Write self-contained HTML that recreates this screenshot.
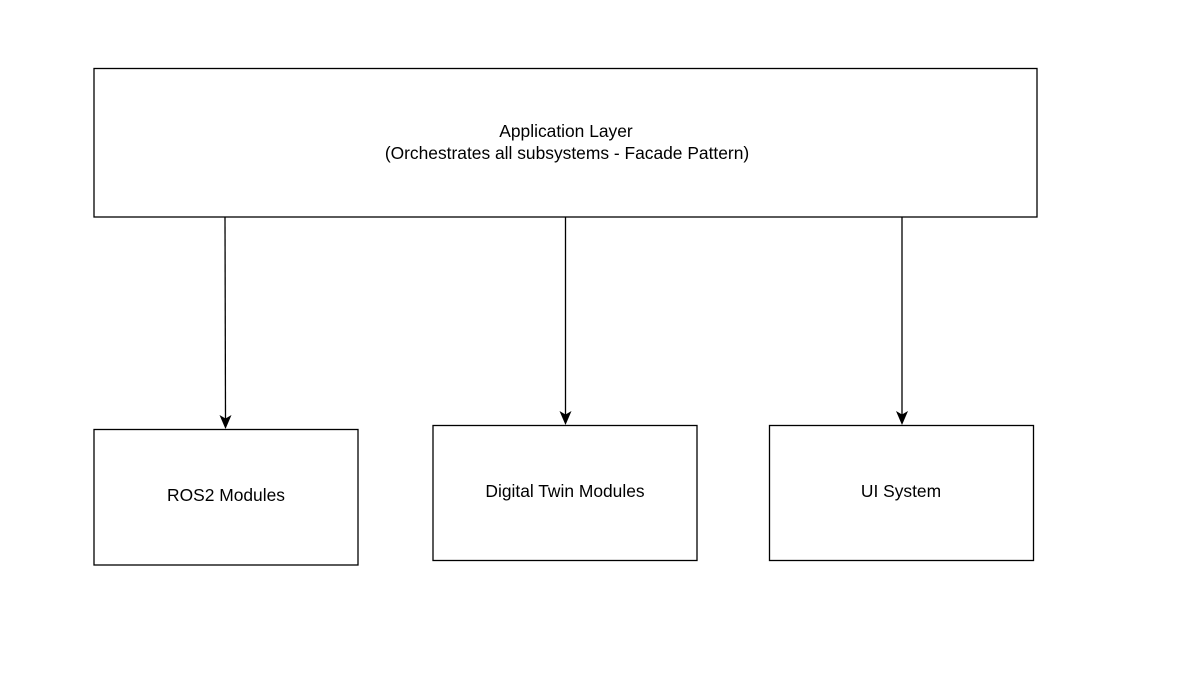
<!DOCTYPE html>
<html><head><meta charset="utf-8"><style>
html,body{margin:0;padding:0;background:#fff;width:1181px;height:685px;overflow:hidden}
svg text{font-family:"Liberation Sans",Arial,sans-serif;font-size:17.4px;fill:#000}
</style></head><body>
<svg width="1181" height="685" viewBox="0 0 1181 685" xmlns="http://www.w3.org/2000/svg">
<g fill="#fff" stroke="#000" stroke-width="1.3">
<rect x="94" y="68.5" width="943" height="148.5"/>
<rect x="94" y="429.5" width="264" height="135.5"/>
<rect x="433" y="425.5" width="264" height="135"/>
<rect x="769.5" y="425.5" width="264" height="135"/>
</g>
<g stroke="#000" stroke-width="1.3" fill="none">
<line x1="225" y1="217" x2="225.5" y2="420"/>
<line x1="565.5" y1="217" x2="565.5" y2="416"/>
<line x1="902" y1="217" x2="902" y2="416"/>
</g>
<g fill="#000">
<path d="M225.5 429 L219.5 415 L225.5 418.5 L231.5 415 Z"/>
<path d="M565.5 425 L559.5 411 L565.5 414.5 L571.5 411 Z"/>
<path d="M902 425 L896 411 L902 414.5 L908 411 Z"/>
</g>
<g text-anchor="middle">
<text x="566" y="137">Application Layer</text>
<text x="567" y="159">(Orchestrates all subsystems - Facade Pattern)</text>
<text x="226" y="501">ROS2 Modules</text>
<text x="565" y="497">Digital Twin Modules</text>
<text x="901" y="497">UI System</text>
</g>
</svg>
</body></html>
